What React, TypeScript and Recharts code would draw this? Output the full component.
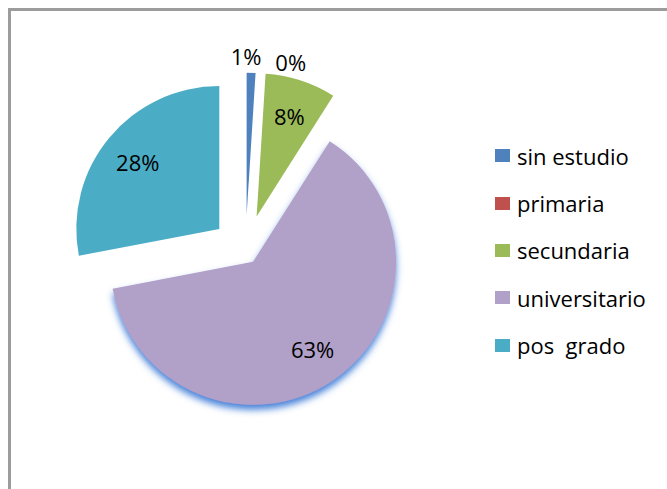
import React from 'react'
import { Cell, Legend, Pie, PieChart, Sector } from 'recharts'

const categories = ['sin estudio', 'primaria', 'secundaria', 'universitario', 'pos  grado']
const values = [1, 0, 8, 63, 28]
const colors = ['#4F81BD', '#C0504D', '#9BBB59', '#B1A0C7', '#4BACC6']

// how far each slice is pulled out of the pie (px)
const explode = [35, 35, 36, 13.5, 34]

const data = categories.map((name, i) => ({ name, value: values[i] }))

const RAD = Math.PI / 180
const FONT = '"Open Sans", sans-serif'

const shift = (angle: number, d: number) => ({
  dx: d * Math.cos(-angle * RAD),
  dy: d * Math.sin(-angle * RAD),
})

const ExplodedSector = (props: any) => {
  const i = categories.indexOf(props.name)
  const { dx, dy } = shift(props.midAngle, explode[i] ?? 0)
  return (
    <Sector
      {...props}
      cx={props.cx + dx}
      cy={props.cy + dy}
      stroke="none"
      filter={i === 3 ? 'url(#softShadow)' : undefined}
    />
  )
}

const renderLabel = (props: any) => {
  const { cx, cy, midAngle, outerRadius, percent, name } = props
  const i = categories.indexOf(name)
  const c = shift(midAngle, explode[i] ?? 0)
  const small = percent < 0.03
  const angle = percent === 0 ? midAngle - 12 : midAngle + (small ? 2 : 0)
  const r = small ? outerRadius + 17 : outerRadius * 0.74
  const x = cx + c.dx + r * Math.cos(-angle * RAD)
  const y = cy + c.dy + r * Math.sin(-angle * RAD)
  return (
    <text
      x={x}
      y={y}
      textAnchor="middle"
      dominantBaseline="central"
      fontFamily={FONT}
      fontSize={22}
      fill="#000"
    >
      {`${Math.round(percent * 100)}%`}
    </text>
  )
}

const renderLegend = (props: any) => {
  const items = [...(props.payload ?? [])].sort(
    (a: any, b: any) => categories.indexOf(a.value) - categories.indexOf(b.value),
  )
  return (
    <div>
      {items.map((p: any) => (
        <div key={p.value} style={{ height: 47.4, display: 'flex', alignItems: 'center' }}>
          <span style={{ width: 15, height: 13, background: p.color, marginRight: 7, flex: 'none' }} />
          <span style={{ fontFamily: FONT, fontSize: 22, color: '#000', whiteSpace: 'pre' }}>
            {p.value}
          </span>
        </div>
      ))}
    </div>
  )
}

export default function App() {
  return (
    <div style={{ position: 'absolute', left: 0, top: 0, width: 667, height: 489, background: '#fff', overflow: 'hidden' }}>
      <div
        style={{
          position: 'absolute',
          left: 8,
          top: 8,
          right: -10,
          bottom: -10,
          borderLeft: '3px solid #9c9c9c',
          borderTop: '3px solid #9c9c9c',
        }}
      />
      <PieChart width={667} height={489} margin={{ top: 0, right: 0, bottom: 0, left: 0 }}>
        <defs>
          <filter id="softShadow" x="-20%" y="-20%" width="140%" height="140%">
            <feDropShadow dx="0" dy="5" stdDeviation="3.5" floodColor="#3576d4" floodOpacity="0.9" />
          </filter>
        </defs>
        <Pie
          data={data}
          dataKey="value"
          nameKey="name"
          cx={245.5}
          cy={250.7}
          outerRadius={143}
          startAngle={90}
          endAngle={-270}
          stroke="none"
          shape={ExplodedSector}
          label={renderLabel}
          labelLine={false}
          isAnimationActive={false}
        >
          {data.map((d, i) => (
            <Cell key={d.name} fill={colors[i]} />
          ))}
        </Pie>
        <Legend
          layout="vertical"
          align="right"
          verticalAlign="middle"
          content={renderLegend}
          wrapperStyle={{ left: 495, top: 132, width: 170 }}
        />
      </PieChart>
    </div>
  )
}
